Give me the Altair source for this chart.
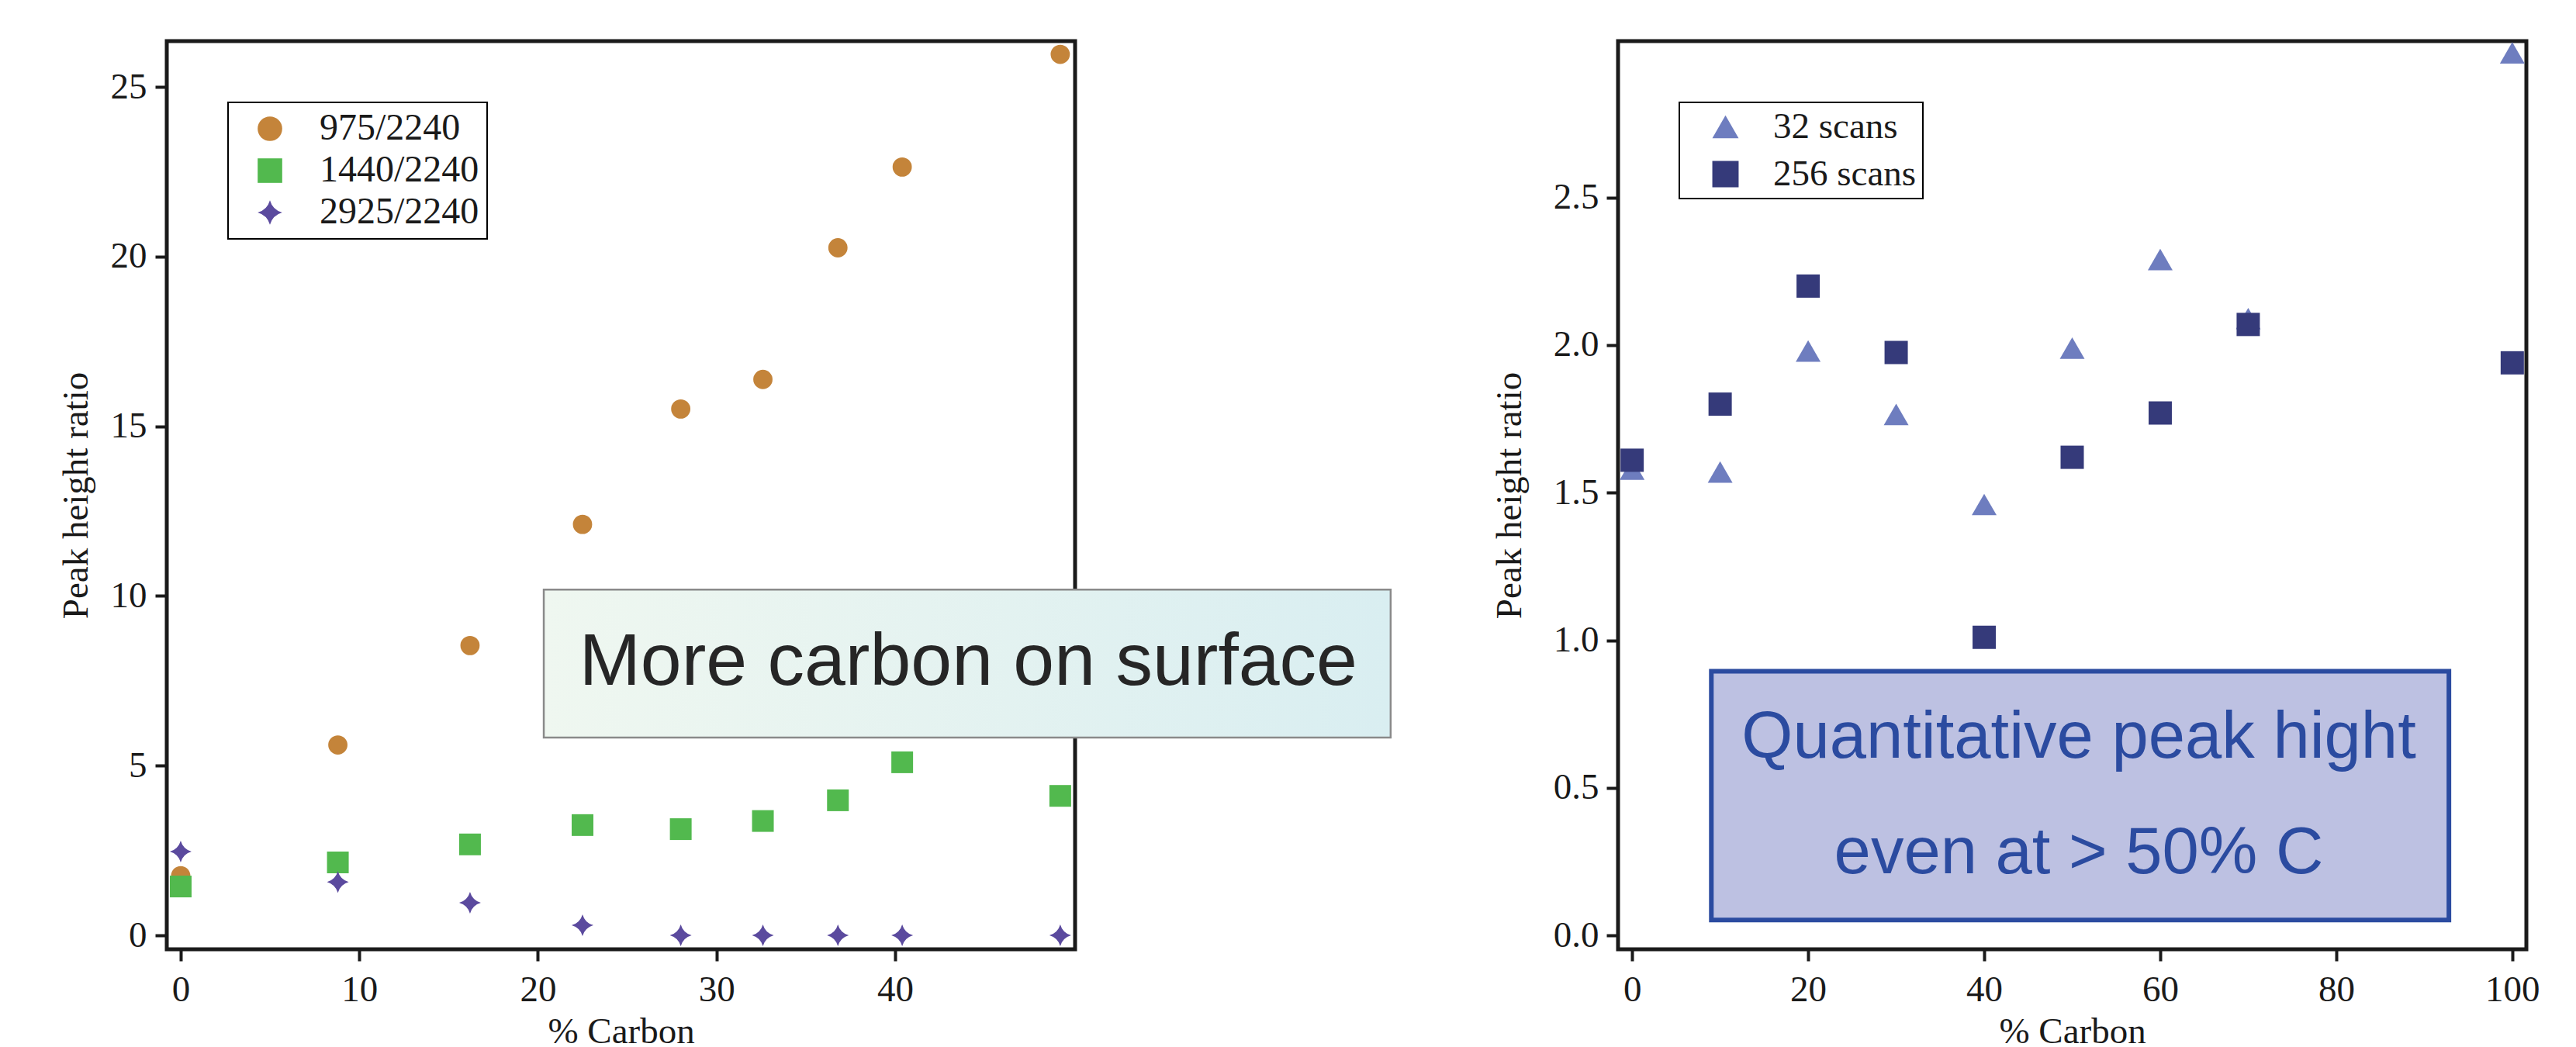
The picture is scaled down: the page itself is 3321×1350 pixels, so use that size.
import altair as alt
import pandas as pd

# ---------------- data ----------------
left_series = ["975/2240", "1440/2240", "2925/2240"]
left_x = [0, 8.8, 16.2, 22.5, 28.0, 32.6, 36.8, 40.4, 49.25]
ratio_975 = [1.76, 5.61, 8.54, 12.11, 15.51, 16.38, 20.26, 22.64, 25.96]
ratio_1440 = [1.44, 2.15, 2.68, 3.25, 3.13, 3.37, 3.98, 5.10, 4.11]
ratio_2925 = [2.47, 1.57, 0.96, 0.30, 0.0, 0.0, 0.0, 0.0, 0.0]

right_series = ["32 scans", "256 scans"]
right_x = [0, 10, 20, 30, 40, 50, 60, 70, 100]
scans_32 = [1.58, 1.57, 1.98, 1.765, 1.46, 1.99, 2.29, 2.09, 2.99]
scans_256 = [1.61, 1.80, 2.20, 1.975, 1.01, 1.62, 1.77, 2.07, 1.94]

left_xticks = [0, 10, 20, 30, 40]
left_yticks = [0, 5, 10, 15, 20, 25]
right_xticks = [0, 20, 40, 60, 80, 100]
right_yticks = [0.0, 0.5, 1.0, 1.5, 2.0, 2.5]

left_note = "More carbon on surface"
right_note = ["Quantitative peak hight", "even at > 50% C"]

# ---------------- tables ----------------
left_df = pd.DataFrame(
    [{"x": x, "y": y, "series": s}
     for s, vals in zip(left_series, [ratio_975, ratio_1440, ratio_2925])
     for x, y in zip(left_x, vals)]
)
right_df = pd.DataFrame(
    [{"x": x, "y": y, "series": s}
     for s, vals in zip(right_series, [scans_32, scans_256])
     for x, y in zip(right_x, vals)]
)

# annotation geometry (data coordinates of each panel)
left_box = pd.DataFrame([{"x": 20.33, "x2": 67.75, "y": 10.19, "y2": 5.83}])
left_text = pd.DataFrame([{"x": 44.1, "y": 7.38, "t": left_note}])
right_box = pd.DataFrame([{"x": 9.0, "x2": 92.8, "y": 0.895, "y2": 0.0525}])
right_text = pd.DataFrame([{"x": 50.75, "y": 0.601, "t": right_note[0]},
                           {"x": 50.75, "y": 0.210, "t": right_note[1]}])

SERIF = "Liberation Serif"
SANS = "Liberation Sans"
INK = "#1a1a1a"
STAR = ("M0,-1 Q0.22,-0.22 1,0 Q0.22,0.22 0,1 "
        "Q-0.22,0.22 -1,0 Q-0.22,-0.22 0,-1 Z")

W = 1171
H = 1171


def axis(values, title, lab_pad, title_pad, fmt=None):
    kw = dict(values=values, title=title, domain=False, grid=False,
              tickSize=15, tickWidth=4, tickColor=INK,
              labelFont=SERIF, labelFontSize=47, labelColor=INK,
              labelPadding=lab_pad, labelFlush=False,
              titleFont=SERIF, titleFontSize=47, titleFontWeight="normal",
              titleColor=INK, titlePadding=title_pad)
    if fmt:
        kw["format"] = fmt
    return alt.Axis(**kw)


def legend(x, y, sym_offset, pad, row_pad, font_size, sym_size, lab_off):
    return alt.Legend(title=None, orient="none", legendX=x, legendY=y,
                      strokeColor="black", fillColor="white", padding=pad,
                      labelFont=SERIF, labelFontSize=font_size,
                      labelColor=INK, labelLimit=500, labelOffset=lab_off,
                      symbolOffset=sym_offset, symbolSize=sym_size,
                      symbolStrokeWidth=0, rowPadding=row_pad)


def panel_points(df, series, colors, shapes, sizes, x, y, leg):
    layers = []
    for s, sz in zip(series, sizes):
        layers.append(
            alt.Chart(df).transform_filter(alt.datum.series == s)
            .mark_point(filled=True, opacity=1, strokeWidth=0, size=sz)
            .encode(
                x=x, y=y,
                color=alt.Color("series:N", sort=series,
                                scale=alt.Scale(domain=series, range=colors),
                                legend=leg),
                shape=alt.Shape("series:N", sort=series,
                                scale=alt.Scale(domain=series, range=shapes),
                                legend=leg),
            )
        )
    return layers


# ---------------- left panel ----------------
lx = alt.X("x:Q", scale=alt.Scale(domain=[-0.78, 50.08], nice=False, zero=False),
           axis=axis(left_xticks, "% Carbon", 14, 8))
ly = alt.Y("y:Q", scale=alt.Scale(domain=[-0.41, 26.35], nice=False, zero=False),
           axis=axis(left_yticks, "Peak height ratio", 11, 20))

left_layers = panel_points(
    left_df, left_series, ["#C4843A", "#52B94E", "#5B4A9E"],
    ["circle", "square", STAR], [616, 784, 784], lx, ly,
    legend(79, 79, 20, 10, 6, 48, 1000, 40))

left_rect = alt.Chart(left_box).mark_rect(
    fill=alt.Gradient(gradient="linear",
                      stops=[alt.GradientStop(color="#EFF7F0", offset=0),
                             alt.GradientStop(color="#D9EEF1", offset=1)],
                      x1=0, x2=1, y1=0, y2=0),
    stroke="#8a8a8a", strokeWidth=2.5,
).encode(x=lx, x2="x2:Q", y=ly, y2="y2:Q")

left_lbl = alt.Chart(left_text).mark_text(
    font=SANS, fontSize=95, color="#262626", align="center",
    baseline="alphabetic").encode(x=lx, y=ly, text="t:N")

left = alt.layer(*left_layers, left_rect, left_lbl).properties(width=W, height=H)

# ---------------- right panel ----------------
rx = alt.X("x:Q", scale=alt.Scale(domain=[-1.6, 101.6], nice=False, zero=False),
           axis=axis(right_xticks, "% Carbon", 14, 8))
ry = alt.Y("y:Q", scale=alt.Scale(domain=[-0.047, 3.03], nice=False, zero=False),
           axis=axis(right_yticks, "Peak height ratio", 10, 32, ".1f"))

right_layers = panel_points(
    right_df, right_series, ["#6E7DBF", "#353A7A"],
    ["triangle-up", "square"], [1024, 900], rx, ry,
    legend(79, 79, 28, 8, 13, 47, 1150, 38))

right_rect = alt.Chart(right_box).mark_rect(
    fill="#BDC1E2", stroke="#2B4BA0", strokeWidth=6,
).encode(x=rx, x2="x2:Q", y=ry, y2="y2:Q")

right_lbl = alt.Chart(right_text).mark_text(
    font=SANS, fontSize=85, color="#2B4BA0", align="center",
    baseline="alphabetic").encode(x=rx, y=ry, text="t:N")

right = alt.layer(*right_layers, right_rect, right_lbl).properties(width=W, height=H)

chart = alt.hconcat(left, right, spacing=700, bounds="flush").resolve_scale(
    color="independent", shape="independent"
).resolve_legend(
    color="independent", shape="independent"
).properties(
    padding={"left": 63, "top": 42, "right": 5, "bottom": 5},
    background="white",
).configure_view(
    stroke=INK, strokeWidth=5
).configure_legend(
    strokeWidth=2
)

chart.save("out.html", embed_options={"renderer": "svg", "actions": False})
